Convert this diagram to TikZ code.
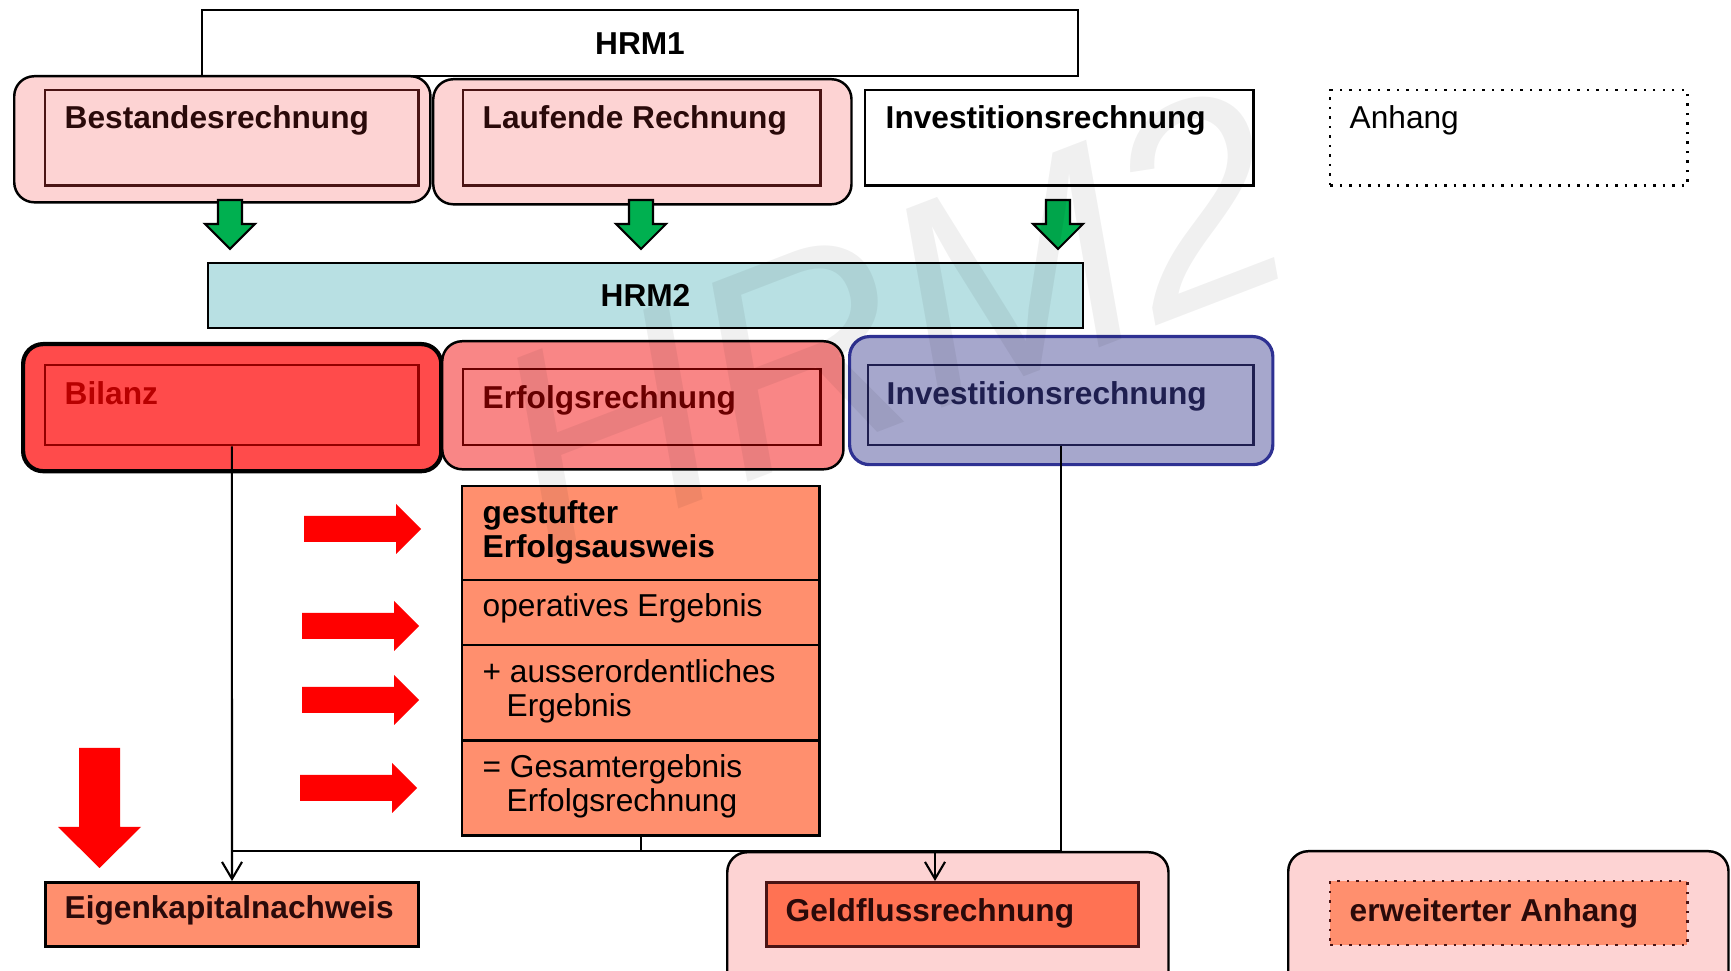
\documentclass[tikz,border=0pt]{standalone}
\usepackage{fontspec}
\setmainfont{Liberation Sans}
\usetikzlibrary{positioning,arrows.meta}

\definecolor{rosa}{HTML}{FDD3D3}
\definecolor{bilrot}{HTML}{FF4B4B}
\definecolor{erfrot}{HTML}{F98686}
\definecolor{invblau}{HTML}{A6A7CC}
\definecolor{invrand}{HTML}{2E3192}
\definecolor{hrmcyan}{HTML}{B8E0E3}
\definecolor{lachs}{HTML}{FF8F6E}
\definecolor{tomate}{HTML}{FF7253}
\definecolor{pfeilgruen}{HTML}{00B050}
\definecolor{dunkelrand}{HTML}{4A1414}
\definecolor{bilschrift}{HTML}{B80000}
\definecolor{erfschrift}{HTML}{6B0000}
\definecolor{invschrift}{HTML}{1F1F50}
\definecolor{dunkeltext}{HTML}{2A0A0A}

\begin{document}
\fontsize{9}{9.9}\selectfont
\begin{tikzpicture}[
        x=0.01cm, y=-0.01cm,
        aussen/.style={rectangle, rounded corners=0.2cm, draw, line width=0.7pt, fill=rosa, anchor=north west, inner sep=0pt},
        innen/.style={rectangle, draw=dunkelrand, line width=0.7pt, anchor=north west, inner sep=0pt},
        stufe/.style={rectangle, draw, line width=0.8pt, fill=lachs, minimum width=3.57cm, inner sep=0pt, outer sep=0pt},
        titel/.style={anchor=base west, inner sep=0pt, font=\bfseries, text=dunkeltext},
        zeile/.style={anchor=base west, inner sep=0pt, align=left},
        linie/.style={draw, line width=0.6pt},
        gruenpfeil/.style={fill=pfeilgruen, draw=black, line width=0.6pt},
        rotpfeil/.style={fill=red, draw=none}
    ]
        \useasboundingbox (0,0) rectangle (1731,971);
        \clip (0,0) rectangle (1731,971);

        % HRM1
        \node[rectangle, draw, line width=0.7pt, fill=white, anchor=north west, minimum width=8.75cm, minimum height=0.66cm, font=\bfseries] (hrm1) at (201,9) {HRM1};

        \node[aussen, minimum width=4.16cm, minimum height=1.26cm] (bestO) at (13,75) {};
        \node[innen, minimum width=3.73cm, minimum height=0.95cm] (bestI) at (44,89) {};
        \node[titel] (bestT) at (64,129) {Bestandesrechnung};

        \node[aussen, minimum width=4.18cm, minimum height=1.25cm] (laufO) at (432,78) {};
        \node[innen, minimum width=3.57cm, minimum height=0.95cm] (laufI) at (462,89) {};
        \node[titel] (laufT) at (482,129) {Laufende Rechnung};

        \node[innen, draw=black, fill=white, minimum width=3.88cm, minimum height=0.95cm] (inv1) at (864,89) {};
        \node[titel, text=black] (inv1T) at (885,129) {Investitionsrechnung};

        \node[innen, draw=black, dotted, minimum width=3.57cm, minimum height=0.95cm] (anh) at (1329,89) {};
        \node[titel, font=\mdseries, text=black] (anhT) at (1349,129) {Anhang};

        % HRM2
        \node[rectangle, draw, line width=0.7pt, fill=hrmcyan, anchor=north west, minimum width=8.74cm, minimum height=0.65cm, font=\bfseries] (hrm2) at (207,262) {HRM2};

        % Pfeile HRM1 -> HRM2
        \foreach \x in {230,641,1058}
            \filldraw[gruenpfeil] (\x-12,200) -- (\x+12,200) -- (\x+12,224) -- (\x+25,224) -- (\x,249) -- (\x-25,224) -- (\x-12,224) -- cycle;

        % Rechnungen HRM2
        \node[aussen, fill=bilrot, line width=1.2pt, minimum width=4.18cm, minimum height=1.27cm] (bilO) at (21,342) {};
        \node[innen, draw=bilschrift!80!black, minimum width=3.73cm, minimum height=0.80cm] (bilI) at (44,364) {};
        \node[titel, text=bilschrift] (bilT) at (64,405) {Bilanz};

        \node[aussen, fill=erfrot, minimum width=4.01cm, minimum height=1.28cm] (erfO) at (441,340) {};
        \node[innen, draw=erfschrift, minimum width=3.57cm, minimum height=0.76cm] (erfI) at (462,368) {};
        \node[titel, text=erfschrift] (erfT) at (482,409) {Erfolgsrechnung};

        \node[aussen, fill=invblau, draw=invrand, line width=0.9pt, minimum width=4.23cm, minimum height=1.28cm] (invO) at (848,335) {};
        \node[innen, draw=invschrift, minimum width=3.85cm, minimum height=0.80cm] (invI) at (867,364) {};
        \node[titel, text=invschrift] (invT) at (886,405) {Investitionsrechnung};

        % gestufter Erfolgsausweis
        \node[stufe, anchor=north west, minimum height=0.94cm] (s1) at (462,486) {};
        \node[stufe, below=0cm of s1, minimum height=0.65cm] (s2) {};
        \node[stufe, below=0cm of s2, minimum height=0.95cm] (s3) {};
        \node[stufe, below=0cm of s3, minimum height=0.95cm] (s4) {};
        \node[zeile, font=\bfseries] (s1T) at (482,558) {gestufter\\Erfolgsausweis};
        \node[zeile] (s2T) at (482,617) {operatives Ergebnis};
        \node[zeile] (s3T) at (482,717) {+ ausserordentliches\\\hspace*{0.24cm}Ergebnis};
        \node[zeile] (s4T) at (482,812) {= Gesamtergebnis\\\hspace*{0.24cm}Erfolgsrechnung};

        \foreach \l/\y in {304/529,302/626,302/700,300/788}
            \fill[rotpfeil] (\l,\y-13) -- (\l+92,\y-13) -- (\l+92,\y-25) -- (\l+117,\y) -- (\l+92,\y+25) -- (\l+92,\y+13) -- (\l,\y+13) -- cycle;
        \fill[rotpfeil] (79,748) -- (120,748) -- (120,827) -- (141,827) -- (99.5,868) -- (58,827) -- (79,827) -- cycle;

        % Nachweise
        \node[innen, draw=black, line width=0.8pt, fill=lachs, minimum width=3.73cm, minimum height=0.64cm] (eigen) at (44,881) {};
        \node[titel] (eigenT) at (64,919) {Eigenkapitalnachweis};

        \node[aussen, minimum width=4.41cm, minimum height=1.5cm] (geldO) at (726,851) {};
        \node[innen, line width=0.8pt, fill=tomate, minimum width=3.72cm, minimum height=0.64cm] (geldI) at (765,881) {};
        \node[titel] (geldT) at (785,922) {Geldflussrechnung};

        \node[aussen, minimum width=4.40cm, minimum height=1.5cm] (erwO) at (1287,850) {};
        \node[innen, dotted, fill=lachs, minimum width=3.57cm, minimum height=0.64cm] (erwI) at (1329,880) {};
        \node[titel] (erwT) at (1349,922) {erweiterter Anhang};

        % Verbindungen
        \coordinate (sammel) at (0,851);
        \coordinate (geldein) at (935,851);
        \draw[linie, -{Straight Barb[length=0.17cm, width=0.2cm]}] (bilI.south) -- (eigen.north);
        \draw[linie] (s4.south) -- (s4.south |- sammel);
        \draw[linie] (invI.south) -- (invI.south |- sammel) -- (bilI.south |- sammel);
        \draw[linie, -{Straight Barb[length=0.17cm, width=0.2cm]}] (geldein) -- (geldein |- geldI.north);

        % Wasserzeichen
        \node[rotate=21, text=black, text opacity=0.06, font=\fontsize{82}{82}\selectfont\itshape] (wz) at (890,320) {HRM2};

    \end{tikzpicture}
\end{document}
